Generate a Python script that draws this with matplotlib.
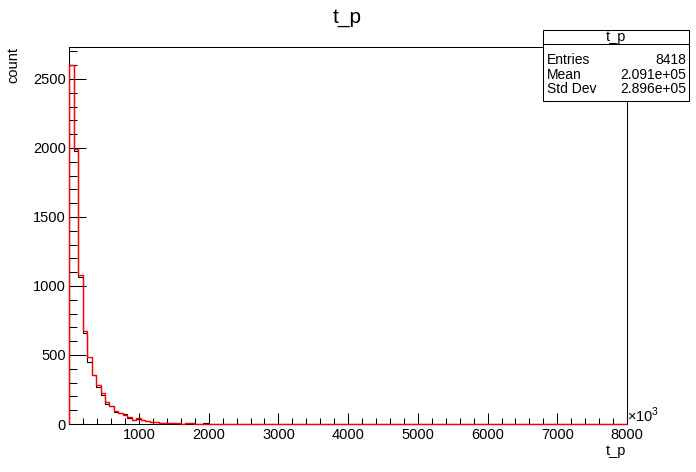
import numpy as np
import matplotlib
matplotlib.use('Agg')
import matplotlib.pyplot as plt
from matplotlib.ticker import MultipleLocator
from matplotlib.patches import Rectangle
from matplotlib.lines import Line2D

plt.rcParams['font.family'] = ['Liberation Sans', 'DejaVu Sans']
plt.rcParams['mathtext.fontset'] = 'custom'
plt.rcParams['mathtext.rm'] = 'Liberation Sans'

# histogram t_p : 125 bins from 0 to 8000 (x 10^3)
n_bins = 125
x_min, x_max = 0, 8000
# counts, first bins (rest are empty)
black_counts = [2601, 1978, 1067, 657, 452, 355, 271, 213, 145, 130,
                85, 77, 72, 45, 27, 36, 30, 20, 16, 12,
                8, 6, 5, 4, 3, 2, 5, 6, 2, 3, 4]
red_counts = [2601, 1990, 1080, 674, 483, 355, 280, 225, 157, 130,
              97, 77, 65, 48, 29, 41, 27, 19, 17, 12,
              5, 5, 5, 5, 5, 0, 5, 5]
black_counts = black_counts + [0] * (n_bins - len(black_counts))
red_counts = red_counts + [0] * (n_bins - len(red_counts))

stats_title = 't_p'
stats_names = ['Entries', 'Mean', 'Std Dev']
stats_values = ['8418', '2.091e+05', '2.896e+05']

W, H = 696, 472
def fx(x): return x / W
def fy(y): return 1 - y / H

fig = plt.figure(figsize=(W / 100, H / 100), dpi=100)
ax = fig.add_axes([fx(69.3), fy(424), (627 - 69.3) / W, (424 - 47) / H])

edges = np.linspace(x_min, x_max, n_bins + 1)
ax.stairs(black_counts, edges, color='black', lw=0.8, zorder=3)
ax.stairs(red_counts, edges, color='red', lw=1.0, zorder=4, clip_on=False)

ax.set_xlim(x_min, x_max)
ax.set_ylim(0, max(black_counts) * 1.05)

ax.set_xticks(np.arange(0, 8001, 1000))
ax.set_xticklabels([''] + [str(v) for v in range(1000, 8001, 1000)])
ax.xaxis.set_minor_locator(MultipleLocator(200))
ax.yaxis.set_major_locator(MultipleLocator(500))
ax.yaxis.set_minor_locator(MultipleLocator(100))
ax.tick_params(which='both', direction='in', top=False, right=False,
               width=0.75, labelsize=10.5)
ax.tick_params(axis='x', which='major', length=8.1, pad=3)
ax.tick_params(axis='x', which='minor', length=4.0)
ax.tick_params(axis='y', which='major', length=12, pad=2.5)
ax.tick_params(axis='y', which='minor', length=6)
for s in ax.spines.values():
    s.set_linewidth(0.75)

# titles
fig.text(fx(347), fy(8), 't_p', ha='center', va='top', fontsize=15)
fig.text(fx(13), fy(47), 'count', rotation=90, ha='center', va='top', fontsize=10.5)
fig.text(fx(626), fy(458), 't_p', ha='right', va='bottom', fontsize=10.5)
fig.text(fx(627), fy(425), r'$\times10^{3}$', ha='left', va='bottom', fontsize=10.5)

# stats box
bx0, bx1, by0, by1 = 542.5, 688.5, 29.5, 101
fig.patches.append(Rectangle((fx(bx0), fy(by1)), (bx1 - bx0) / W, (by1 - by0) / H,
                             transform=fig.transFigure, facecolor='white',
                             edgecolor='black', lw=0.75, zorder=5))
fig.lines.append(Line2D([fx(bx0), fx(bx1)], [fy(44), fy(44)],
                        transform=fig.transFigure, color='black', lw=0.75, zorder=6))
fig.text(fx((bx0 + bx1) / 2), fy(36.5), stats_title, ha='center', va='center',
         fontsize=10.5, zorder=7)
for i, (name, val) in enumerate(zip(stats_names, stats_values)):
    yy = 60.5 + i * 14.3
    fig.text(fx(547), fy(yy), name, ha='left', va='center', fontsize=10, zorder=7)
    fig.text(fx(686), fy(yy), val, ha='right', va='center', fontsize=10, zorder=7)

fig.savefig('out.png', dpi=100)
